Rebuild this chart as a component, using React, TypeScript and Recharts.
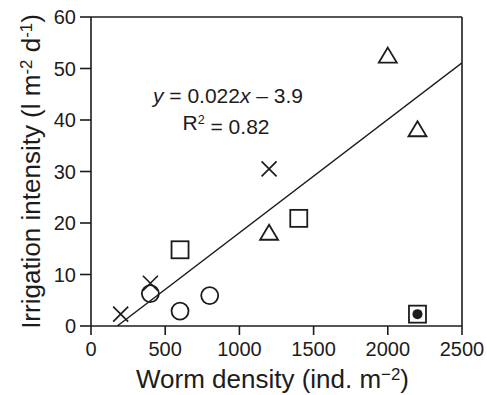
import { Label, ReferenceLine, Scatter, ScatterChart, XAxis, YAxis } from "recharts";

// axis ticks
const xTicks = [0, 500, 1000, 1500, 2000, 2500];
const yTicks = [0, 10, 20, 30, 40, 50, 60];

// series (worm density, irrigation intensity)
const crossX = [200, 400, 1200];
const crossY = [2.3, 8.3, 30.5];
const circleX = [400, 600, 800];
const circleY = [6.3, 2.9, 5.9];
const squareX = [600, 1400];
const squareY = [14.8, 20.9];
const triangleX = [1200, 2000, 2200];
const triangleY = [18.2, 52.6, 38.3];
const dotSquareX = [2200];
const dotSquareY = [2.3];

// regression line end points
const fitX = [177, 2500];
const fitY = [0, 51.1];

const INK = "#1c1c1c";
const FONT = "Arial, 'Liberation Sans', Helvetica, sans-serif";

const toPoints = (xs: number[], ys: number[]) =>
  xs.map((x, i) => ({ x, y: ys[i] }));

type P = { cx?: number; cy?: number };

const Cross = ({ cx = 0, cy = 0 }: P) => {
  const s = 7.5;
  return (
    <path
      d={`M${cx - s},${cy - s}L${cx + s},${cy + s}M${cx - s},${cy + s}L${cx + s},${cy - s}`}
      stroke={INK}
      strokeWidth={1.7}
      fill="none"
    />
  );
};

const Circle = ({ cx = 0, cy = 0 }: P) => (
  <circle cx={cx} cy={cy} r={8.5} stroke={INK} strokeWidth={1.8} fill="none" />
);

const Square = ({ cx = 0, cy = 0 }: P) => (
  <rect x={cx - 8.5} y={cy - 8.5} width={17} height={17} stroke={INK} strokeWidth={1.8} fill="none" />
);

const Triangle = ({ cx = 0, cy = 0 }: P) => (
  <path
    d={`M${cx},${cy - 7.5}L${cx + 9},${cy + 7.5}L${cx - 9},${cy + 7.5}Z`}
    stroke={INK}
    strokeWidth={1.8}
    fill="none"
  />
);

const DotSquare = ({ cx = 0, cy = 0 }: P) => (
  <g>
    <rect x={cx - 8.5} y={cy - 8.5} width={17} height={17} stroke={INK} strokeWidth={1.8} fill="none" />
    <circle cx={cx} cy={cy} r={5} fill={INK} />
  </g>
);

const NoDot = () => <g />;

const XTick = ({ x, y, payload }: any) => (
  <text x={x} y={y + 14} textAnchor="middle" fontSize={20} fill={INK} fontFamily={FONT}>
    {payload.value}
  </text>
);

const YTick = ({ x, y, payload }: any) => (
  <text x={x} y={y + 7} textAnchor="end" fontSize={20} fill={INK} fontFamily={FONT}>
    {payload.value}
  </text>
);

const XTitle = ({ viewBox }: any) => {
  const cx = viewBox.x + viewBox.width / 2 - 4;
  return (
    <text x={cx} y={viewBox.y + 62} textAnchor="middle" fontSize={26} fill={INK} fontFamily={FONT}>
      Worm density (ind. m
      <tspan dy="-0.45em" fontSize="0.65em">−2</tspan>
      <tspan dy="0.29em">)</tspan>
    </text>
  );
};

const YTitle = ({ viewBox }: any) => {
  const cy = viewBox.y + viewBox.height / 2;
  const x = 40;
  return (
    <text
      x={x}
      y={cy}
      transform={`rotate(-90 ${x} ${cy})`}
      textAnchor="middle"
      fontSize={26}
      fill={INK}
      fontFamily={FONT}
    >
      Irrigation intensity (l m
      <tspan dy="-0.45em" fontSize="0.65em">-2</tspan>
      <tspan dy="0.29em"> d</tspan>
      <tspan dy="-0.45em" fontSize="0.65em">-1</tspan>
      <tspan dy="0.29em">)</tspan>
    </text>
  );
};

export default function App() {
  const lineStyle = { stroke: INK, strokeWidth: 1.6 };
  return (
    <div style={{ position: "absolute", left: 0, top: 0, background: "#fff" }}>
      <ScatterChart
        width={487}
        height={395}
        margin={{ top: 17, right: 25, bottom: 0, left: 0 }}
      >
        <XAxis
          type="number"
          dataKey="x"
          domain={[0, 2500]}
          ticks={xTicks}
          tick={XTick}
          tickSize={9}
          tickMargin={7}
          axisLine={lineStyle}
          tickLine={lineStyle}
          height={69}
          allowDataOverflow
        >
          <Label content={XTitle} />
        </XAxis>
        <YAxis
          type="number"
          dataKey="y"
          domain={[0, 60]}
          ticks={yTicks}
          tick={YTick}
          tickSize={11}
          tickMargin={4}
          axisLine={lineStyle}
          tickLine={lineStyle}
          width={91}
          allowDataOverflow
        >
          <Label content={YTitle} />
        </YAxis>
        <ReferenceLine y={60} stroke={INK} strokeWidth={1.6} />
        <ReferenceLine x={2500} stroke={INK} strokeWidth={1.6} />
        <Scatter
          data={toPoints(fitX, fitY)}
          line={{ stroke: INK, strokeWidth: 1.4 }}
          shape={NoDot}
          isAnimationActive={false}
        />
        <Scatter data={toPoints(crossX, crossY)} shape={Cross} isAnimationActive={false} />
        <Scatter data={toPoints(circleX, circleY)} shape={Circle} isAnimationActive={false} />
        <Scatter data={toPoints(squareX, squareY)} shape={Square} isAnimationActive={false} />
        <Scatter data={toPoints(triangleX, triangleY)} shape={Triangle} isAnimationActive={false} />
        <Scatter data={toPoints(dotSquareX, dotSquareY)} shape={DotSquare} isAnimationActive={false} />
        <text x={228} y={103} textAnchor="middle" fontSize={21} fill={INK} fontFamily={FONT}>
          <tspan fontStyle="italic">y</tspan> = 0.022<tspan fontStyle="italic">x</tspan> – 3.9
        </text>
        <text x={226} y={130} textAnchor="middle" fontSize={21} fill={INK} fontFamily={FONT}>
          R<tspan dy="-0.45em" fontSize="0.6em">2</tspan>
          <tspan dy="0.45em"> = 0.82</tspan>
        </text>
      </ScatterChart>
    </div>
  );
}
